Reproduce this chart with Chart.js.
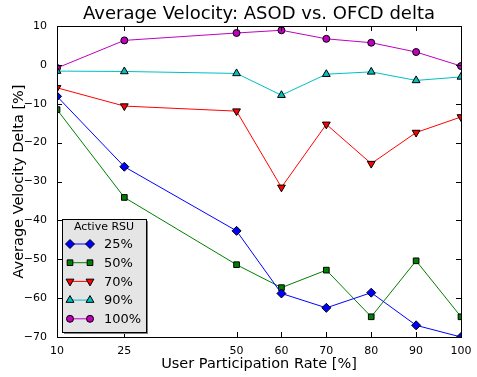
<!DOCTYPE html>
<html>
<head>
<meta charset="utf-8">
<script src="https://cdn.jsdelivr.net/npm/chart.js@4/dist/chart.umd.min.js"></script>
<style>
  html, body { margin: 0; padding: 0; background: #fff; }
  #wrap { width: 477px; height: 377px; }
</style>
</head>
<body>
<div id="wrap"><canvas id="chart" width="477" height="377"></canvas></div>
<script>
// participation rate (x) and velocity delta per active-RSU share
const rates = [10, 25, 50, 60, 70, 80, 90, 100];
const rsu25 = [-8.1, -26.2, -42.7, -58.8, -62.5, -58.6, -67.0, -70.0];
const rsu50 = [-11.5, -34.1, -51.4, -57.3, -52.8, -64.8, -50.4, -64.8];
const rsu70 = [-5.9, -10.6, -11.9, -31.5, -15.3, -25.4, -17.4, -13.4];
const rsu90 = [-1.6, -1.7, -2.2, -7.8, -2.4, -1.8, -4.0, -3.1];
const rsu100 = [-0.8, 6.3, 8.2, 8.9, 6.7, 5.7, 3.3, -0.3];
const yTicks = [10, 0, -10, -20, -30, -40, -50, -60, -70];

const font = 'DejaVu Sans';
Chart.defaults.font.family = font;
Chart.defaults.color = '#000';

const pts = (ys) => ys.map((y, i) => ({x: rates[i], y: y}));

const series = (label, ys, color, style, radius, rot) => ({
  label: label,
  data: pts(ys),
  borderColor: color,
  backgroundColor: color,
  borderWidth: 1,
  pointStyle: style,
  pointRadius: radius,
  pointRotation: rot || 0,
  pointBorderColor: '#000',
  pointBorderWidth: 1,
  pointBackgroundColor: color,
  pointHoverRadius: radius,
  tension: 0
});

const frame = {
  id: 'frame',
  afterDraw: function(chart) {
    const ctx = chart.ctx;
    const a = chart.chartArea;
    const xs = chart.scales.x;
    const ys = chart.scales.y;
    ctx.save();
    ctx.strokeStyle = '#000';
    ctx.lineWidth = 1;
    ctx.strokeRect(Math.round(a.left) + 0.5, Math.round(a.top) + 0.5,
      Math.round(a.right - a.left), Math.round(a.bottom - a.top));
    ctx.beginPath();
    rates.forEach((v) => {
      const px = Math.round(xs.getPixelForValue(v)) + 0.5;
      ctx.moveTo(px, a.bottom); ctx.lineTo(px, a.bottom - 5);
      ctx.moveTo(px, a.top); ctx.lineTo(px, a.top + 5);
    });
    yTicks.forEach((v) => {
      const py = Math.round(ys.getPixelForValue(v)) + 0.5;
      ctx.moveTo(a.left, py); ctx.lineTo(a.left + 5, py);
      ctx.moveTo(a.right, py); ctx.lineTo(a.right - 5, py);
    });
    ctx.stroke();

    // title
    ctx.fillStyle = '#000';
    ctx.font = '18px "' + font + '"';
    ctx.textAlign = 'center';
    ctx.textBaseline = 'alphabetic';
    ctx.fillText('Average Velocity: ASOD vs. OFCD delta', (a.left + a.right) / 2, 19);

    // legend
    const lx = 62, ly = 219, lw = 84, lh = 113;
    ctx.fillStyle = '#7f7f7f';
    ctx.fillRect(lx + 2, ly + 2, lw, lh);
    ctx.fillStyle = '#e5e5e5';
    ctx.fillRect(lx, ly, lw, lh);
    ctx.strokeStyle = '#000';
    ctx.strokeRect(lx + 0.5, ly + 0.5, lw, lh);
    ctx.fillStyle = '#000';
    ctx.font = '11px "' + font + '"';
    ctx.textAlign = 'center';
    ctx.textBaseline = 'middle';
    ctx.fillText('Active RSU', lx + lw / 2, ly + 8);
    ctx.font = '13px "' + font + '"';
    ctx.textAlign = 'left';
    chart.data.datasets.forEach((ds, i) => {
      const yy = ly + 25 + i * 18.7;
      ctx.strokeStyle = ds.borderColor;
      ctx.lineWidth = 1;
      ctx.beginPath();
      ctx.moveTo(70, yy); ctx.lineTo(90, yy);
      ctx.stroke();
      const opts = {
        pointStyle: ds.pointStyle, radius: ds.pointRadius, rotation: ds.pointRotation,
        borderWidth: 1
      };
      ctx.fillStyle = ds.pointBackgroundColor;
      ctx.strokeStyle = '#000';
      Chart.helpers.drawPoint(ctx, opts, 70, yy);
      ctx.fillStyle = ds.pointBackgroundColor;
      ctx.strokeStyle = '#000';
      Chart.helpers.drawPoint(ctx, opts, 90, yy);
      ctx.fillStyle = '#000';
      ctx.fillText(ds.label, 104, yy + 1);
    });
    ctx.restore();
  }
};

new Chart(document.getElementById('chart'), {
  type: 'line',
  data: {
    datasets: [
      series('25%', rsu25, '#0000ff', 'rectRot', 4.5),
      series('50%', rsu50, '#008000', 'rect', 4),
      series('70%', rsu70, '#ff0000', 'triangle', 4.5, 180),
      series('90%', rsu90, '#00bfbf', 'triangle', 4.5),
      series('100%', rsu100, '#bf00bf', 'circle', 3.5)
    ]
  },
  options: {
    responsive: false,
    animation: false,
    layout: { padding: { top: 26, right: 16, left: 11, bottom: 0 } },
    plugins: {
      legend: { display: false },
      tooltip: { enabled: false },
      title: { display: false }
    },
    scales: {
      x: {
        type: 'linear',
        min: 10,
        max: 100,
        afterBuildTicks: (s) => { s.ticks = rates.map((v) => ({value: v})); },
        afterFit: (s) => { s.height = 40; },
        grid: { display: false },
        border: { display: false },
        ticks: { font: { size: 11 }, padding: 0, maxRotation: 0, autoSkip: false },
        title: { display: true, text: 'User Participation Rate [%]', font: { size: 14.5 }, padding: { top: 1 } }
      },
      y: {
        min: -70,
        max: 10,
        afterBuildTicks: (s) => { s.ticks = yTicks.map((v) => ({value: v})); },
        afterFit: (s) => { s.width = 46; },
        grid: { display: false },
        border: { display: false },
        ticks: {
          font: { size: 11 },
          padding: 2,
          callback: (v) => String(v).replace('-', '\u2212')
        },
        title: { display: true, text: 'Average Velocity Delta [%]', font: { size: 14.5 }, padding: 0 }
      }
    }
  },
  plugins: [frame]
});
</script>
</body>
</html>
